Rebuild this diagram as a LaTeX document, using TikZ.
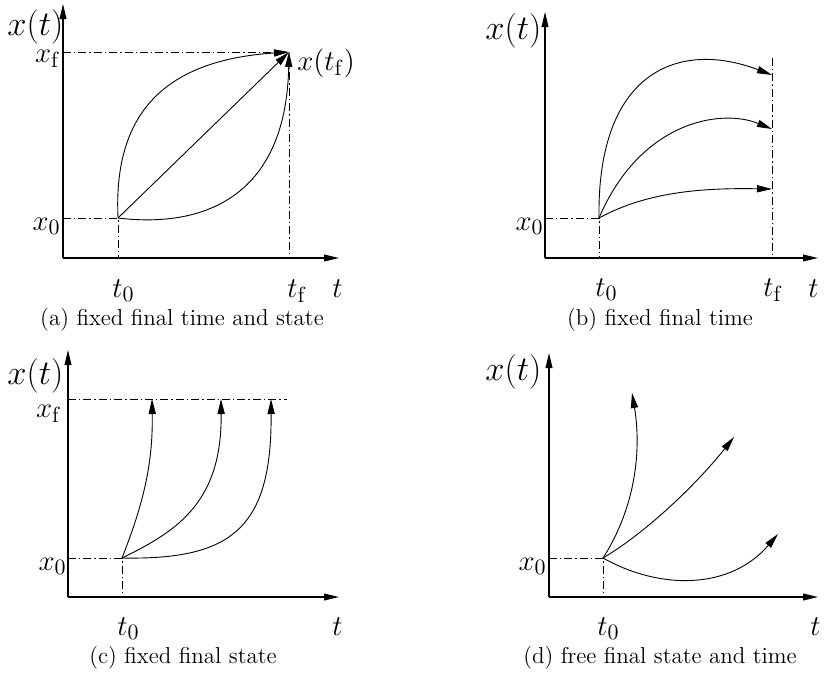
\documentclass[tikz,border=0pt]{standalone}
\usepackage{amsmath}
\usetikzlibrary{arrows.meta}

\begin{document}
\begin{tikzpicture}[
  x=0.5pt, y=-0.5pt,
  axis/.style={-{Triangle[length=7.5pt,width=3.4pt]}, line width=0.6pt},
  traj/.style={-{Triangle[length=7.5pt,width=3.6pt]}, line width=0.45pt},
  guide/.style={line width=0.4pt, dash pattern=on 4pt off 1.5pt on 0.7pt off 1.5pt},
  lbl/.style={inner sep=0pt, font=\fontsize{15}{18}\selectfont},
  ylbl/.style={inner sep=0pt, anchor=base west, font=\fontsize{16}{19}\selectfont},
  capt/.style={inner sep=0pt, anchor=base, font=\fontsize{11.5}{13.5}\selectfont}
]
\useasboundingbox (0,0) rectangle (825,676);

% (a)
\coordinate (oA) at (63,258);
\coordinate (yA) at (63,4);
\coordinate (xA) at (339,258);
\coordinate (sA) at (118,218);
\coordinate (eA) at (289,52);
\draw[guide] (oA |- eA) -- (eA) -- (eA |- oA);
\draw[guide] (oA |- sA) -- (sA) -- (sA |- oA);
\draw[axis] (oA) -- (yA);
\draw[axis] (oA) -- (xA);
\draw[traj] (sA) .. controls (113,110) and (168,60) .. (eA);
\draw[traj] (sA) -- (eA);
\draw[traj] (sA) .. controls (200,228) and (286,200) .. (eA);
\node[ylbl] (xtA) at (7,35) {$x(t)$};
\node[lbl, anchor=base east] (xfA) at (61,62) {$x_\mathrm{f}$};
\node[lbl, anchor=base east] (x0A) at (61,230) {$x_0$};
\node[lbl, anchor=base west] (xtfA) at (297,70) {$x(t_\mathrm{f})$};
\node[lbl, anchor=base west] (t0A) at (112,297) {$t_0$};
\node[lbl, anchor=base west] (tfA) at (287,297) {$t_\mathrm{f}$};
\node[lbl, anchor=base west] (tA) at (332,297) {$t$};
\node[capt] (capA) at (182,325) {(a) fixed final time and state};

% (b)
\coordinate (oB) at (545,258);
\coordinate (yB) at (545,12);
\coordinate (xB) at (818,258);
\coordinate (sB) at (599,218);
\coordinate (fB) at (772,58);
\draw[guide] (oB |- sB) -- (sB) -- (sB |- oB);
\draw[guide] (fB) -- (fB |- oB);
\draw[axis] (oB) -- (yB);
\draw[axis] (oB) -- (xB);
\draw[traj] (sB) .. controls (597,70) and (680,40) .. (772,75);
\draw[traj] (sB) .. controls (640,122) and (720,108) .. (772,129);
\draw[traj] (sB) .. controls (650,190) and (710,188) .. (772,189);
\node[ylbl] (xtB) at (485,39) {$x(t)$};
\node[lbl, anchor=base east] (x0B) at (544,230) {$x_0$};
\node[lbl, anchor=base west] (t0B) at (595,296) {$t_0$};
\node[lbl, anchor=base west] (tfB) at (763,296) {$t_\mathrm{f}$};
\node[lbl, anchor=base west] (tB) at (808,297) {$t$};
\node[capt] (capB) at (660,325) {(b) fixed final time};

% (c)
\coordinate (oC) at (68,597);
\coordinate (yC) at (68,350);
\coordinate (xC) at (339,597);
\coordinate (sC) at (122,558);
\coordinate (fC) at (287,399);
\draw[guide] (oC |- fC) -- (fC);
\draw[guide] (oC |- sC) -- (sC) -- (sC |- oC);
\draw[axis] (oC) -- (yC);
\draw[axis] (oC) -- (xC);
\draw[traj] (sC) .. controls (145,500) and (153,460) .. (152,399);
\draw[traj] (sC) .. controls (180,530) and (222,500) .. (221,399);
\draw[traj] (sC) .. controls (230,560) and (272,530) .. (271,399);
\node[ylbl] (xtC) at (7,384) {$x(t)$};
\node[lbl, anchor=base east] (xfC) at (62,417) {$x_\mathrm{f}$};
\node[lbl, anchor=base east] (x0C) at (67,570) {$x_0$};
\node[lbl, anchor=base west] (t0C) at (117,635) {$t_0$};
\node[lbl, anchor=base west] (tC) at (332,635) {$t$};
\node[capt] (capC) at (183,663) {(c) fixed final state};

% (d)
\coordinate (oD) at (549,597);
\coordinate (yD) at (549,353);
\coordinate (xD) at (818,597);
\coordinate (sD) at (603,558);
\draw[guide] (oD |- sD) -- (sD) -- (sD |- oD);
\draw[axis] (oD) -- (yD);
\draw[axis] (oD) -- (xD);
\draw[traj] (sD) .. controls (640,500) and (640,440) .. (632,393);
\draw[traj] (sD) .. controls (650,530) and (700,480) .. (734,437);
\draw[traj] (sD) .. controls (660,590) and (730,590) .. (778,534);
\node[ylbl] (xtD) at (485,380) {$x(t)$};
\node[lbl, anchor=base east] (x0D) at (547,570) {$x_0$};
\node[lbl, anchor=base west] (t0D) at (597,635) {$t_0$};
\node[lbl, anchor=base west] (tD) at (810,635) {$t$};
\node[capt] (capD) at (660,663) {(d) free final state and time};

\end{tikzpicture}
\end{document}
